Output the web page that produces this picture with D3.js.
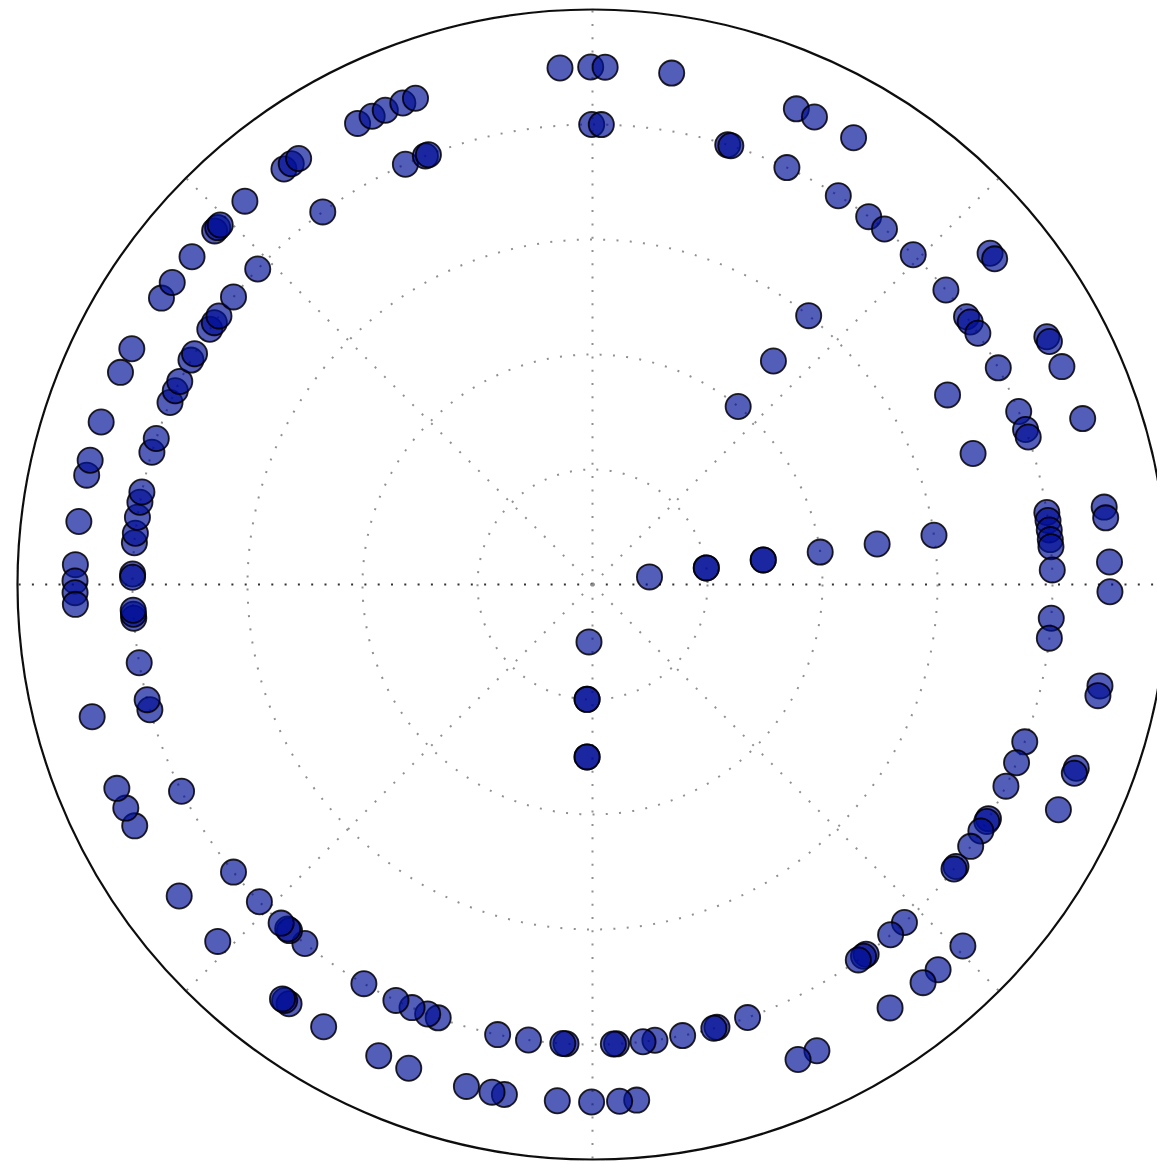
<!DOCTYPE html>
<html>
<head>
<meta charset="utf-8">
<script src="https://cdn.jsdelivr.net/npm/d3@7"></script>
<style>
  html, body { margin: 0; padding: 0; background: #fff; overflow: hidden; }
  svg { display: block; }
</style>
</head>
<body>
<div id="chart"></div>
<script>
// Polar scatter: angles in degrees (0 = east, counter-clockwise), radius in data units.

// Points on the outer ring (r = 4.5)
const thetaOuter = [
  90.2, 88.6, 81.2, 66.8, 64.6, 59.7, 39.8, 39.0, 28.6, 28.0, 24.9, 18.7,
  8.6, 7.4, 2.5, -0.8, -11.3, -12.4, -20.8, -21.4, -25.8, -44.3, -48.1,
  -50.3, -54.9, -64.3, -66.6, -85.1, -87.0, -90.1, -93.9, -99.8, -101.2,
  -104.1, -110.8, -114.4, -121.3, -125.9, -126.5, -126.8, -136.4, -143.0,
  -152.2, -154.4, -156.8, -165.2, 177.8, 179.6, 180.9, 182.2, 173.0, 167.8,
  166.1, 161.7, 155.8, 152.9, 146.4, 144.3, 140.7, 136.9, 136.4, 136.0,
  132.2, 126.6, 125.6, 124.6, 117.0, 115.2, 113.6, 111.5, 110.0, 93.6
];

// Points on the inner ring (r = 4.0)
const thetaInner = [
  90.1, 88.9, 72.9, 72.5, 65.0, 57.7, 53.1, 50.6, 45.8, 39.8, 35.6, 34.8,
  33.1, 28.1, 22.1, 19.7, 18.7, 9.0, 8.0, 6.8, 5.6, 4.7, 1.8, -4.2, -6.7,
  -20.0, -22.8, -26.0, -30.6, -31.0, -32.4, -34.7, -37.8, -38.2, -47.3,
  -49.6, -53.5, -53.9, -54.7, -70.3, -74.3, -74.7, -78.7, -82.2, -83.7,
  -87.0, -87.4, -93.3, -93.7, -98.0, -101.9, -109.6, -111.0, -113.1, -115.3,
  -119.8, -128.7, -131.2, -131.5, -132.6, -136.4, -141.3, -153.3, -164.2,
  -165.5, -170.2, -175.8, -176.3, -176.8, 178.7, 179.1, 174.8, 173.6, 171.6,
  169.7, 168.4, 163.3, 161.5, 156.7, 155.1, 153.8, 150.8, 149.9, 146.3,
  145.3, 144.3, 141.3, 136.7, 125.9, 114.0, 111.3, 110.9
];

// Points at r = 3.5
const thetaMid = [28.1, 19.0];

const ringRadius = [4.5, 4.0, 3.5];
const ringTheta = [thetaOuter, thetaInner, thetaMid];

// Radial runs of points toward the centre
const spokeTheta = [7.6, 8.3, 8.3, 8.2, 8.2, 8.1, 8.1, 8.2,
                    -93.5, -92.7, -92.7, -91.8, -91.8,
                    50.7, 51.0, 51.2];
const spokeR     = [0.5, 1.0, 1.0, 1.5, 1.5, 2.0, 2.5, 3.0,
                    0.5, 1.0, 1.0, 1.5, 1.5,
                    2.0, 2.5, 3.0];

// Axis definition
const rMax = 5;
const rGridTicks = [1, 2, 3, 4];
const thetaGridTicks = [0, 45, 90, 135, 180, 225, 270, 315];

const W = 1157, H = 1164;
const cx = 592.5, cy = 584.5, R = 575;

const points = [];
ringTheta.forEach((arr, i) => arr.forEach(t => points.push({ theta: t, r: ringRadius[i] })));
spokeTheta.forEach((t, i) => points.push({ theta: t, r: spokeR[i] }));

const rScale = d3.scaleLinear().domain([0, rMax]).range([0, R]);
const toRad = d => d * Math.PI / 180;
const px = d => rScale(d.r) * Math.cos(toRad(d.theta));
const py = d => -rScale(d.r) * Math.sin(toRad(d.theta));

const svg = d3.select("#chart").append("svg")
  .attr("width", W).attr("height", H);

// Slight softening of all strokes and fills
svg.append("defs").append("filter")
  .attr("id", "soft")
  .attr("x", "-5%").attr("y", "-5%").attr("width", "110%").attr("height", "110%")
  .append("feGaussianBlur").attr("stdDeviation", 0.55);

const g = svg.append("g")
  .attr("transform", `translate(${cx},${cy})`)
  .attr("filter", "url(#soft)");

// Concentric dotted grid circles
g.append("g").selectAll("circle")
  .data(rGridTicks)
  .join("circle")
  .attr("r", d => rScale(d))
  .attr("fill", "none")
  .attr("stroke", "#909090")
  .attr("stroke-width", 2)
  .attr("stroke-dasharray", "2 11.3");

// Radial dotted grid lines, drawn outward from the centre
g.append("g").selectAll("line")
  .data(thetaGridTicks)
  .join("line")
  .attr("x1", 0).attr("y1", 0)
  .attr("x2", d => rScale(rMax) * Math.cos(toRad(d)))
  .attr("y2", d => -rScale(rMax) * Math.sin(toRad(d)))
  .attr("stroke", d => (d % 180 === 0) ? "#333" : "#909090")
  .attr("stroke-width", d => (d % 180 === 0) ? 2.2 : 2)
  .attr("stroke-dasharray", "2 11.3");

// Outer boundary
g.append("circle")
  .attr("r", rScale(rMax))
  .attr("fill", "none")
  .attr("stroke", "#111")
  .attr("stroke-width", 2.2);

// Scatter markers
g.append("g").selectAll("circle")
  .data(points)
  .join("circle")
  .attr("cx", px)
  .attr("cy", py)
  .attr("r", 12.6)
  .attr("fill", "rgb(0,10,150)")
  .attr("fill-opacity", 0.68)
  .attr("stroke", "#000")
  .attr("stroke-opacity", 0.85)
  .attr("stroke-width", 1.8);
</script>
</body>
</html>
